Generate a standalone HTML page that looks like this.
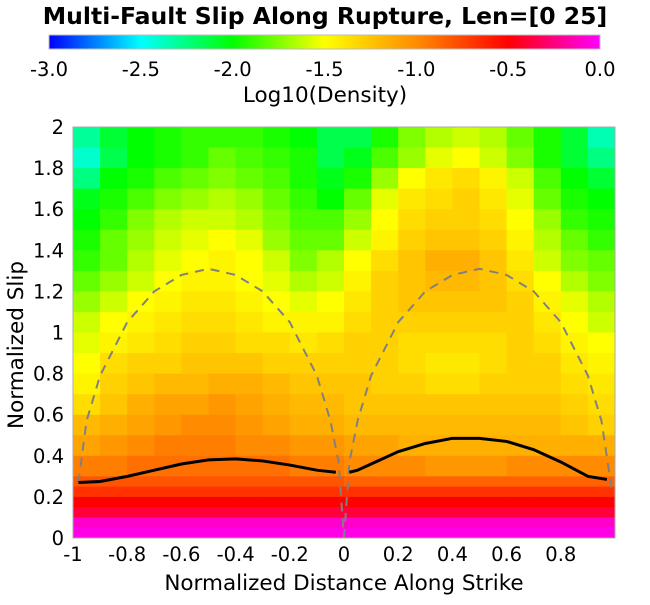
<!DOCTYPE html>
<html><head><meta charset="utf-8">
<style>
body{margin:0;background:#fff;}
svg text{font-family:"DejaVu Sans","Liberation Sans",sans-serif;fill:#000;}
</style></head>
<body>
<svg id="chart" width="650" height="600" viewBox="0 0 650 600" xmlns="http://www.w3.org/2000/svg">
<defs>
<linearGradient id="cmap" x1="0" x2="1" y1="0" y2="0">
<stop offset="0" stop-color="#0000ff"/><stop offset="0.1667" stop-color="#00ffff"/>
<stop offset="0.3333" stop-color="#00ff00"/><stop offset="0.5" stop-color="#ffff00"/>
<stop offset="0.6667" stop-color="#ff8c00"/><stop offset="0.8333" stop-color="#ff0000"/>
<stop offset="1" stop-color="#ff00ff"/></linearGradient>
</defs>
<text x="325" y="24" text-anchor="middle" font-size="23.5" font-weight="bold">Multi-Fault Slip Along Rupture, Len=[0 25]</text>
<rect x="49" y="35" width="551" height="14" fill="url(#cmap)" stroke="#bbb" stroke-width="1"/>
<g id="cbticks"></g>
<text x="325" y="102" text-anchor="middle" font-size="21.5">Log10(Density)</text>
<g id="heat"></g>
<g id="lines"></g>
<rect x="73" y="127" width="542" height="411" fill="none" stroke="#aaa" stroke-width="1"/>
<g id="axes"></g>
<text x="344" y="590" text-anchor="middle" font-size="21.5">Normalized Distance Along Strike</text>
<text transform="translate(23,345) rotate(-90)" text-anchor="middle" font-size="21.5">Normalized Slip</text>
</svg>
<script>
const xEdges = [-1,-0.9,-0.8,-0.7,-0.6,-0.5,-0.4,-0.3,-0.2,-0.1,0,0.1,0.2,0.3,0.4,0.5,0.6,0.7,0.8,0.9,1];
const yEdges = [2.0,1.9,1.8,1.7,1.6,1.5,1.4,1.3,1.2,1.1,1.0,0.9,0.8,0.7,0.6,0.5,0.4,0.3,0.25,0.2,0.15,0.1,0.05,0];
const density = [
[-2.3,-2.1,-2.0,-1.95,-1.9,-1.9,-1.9,-1.95,-2.0,-2.15,-2.15,-1.95,-1.75,-1.65,-1.6,-1.65,-1.8,-1.95,-2.1,-2.35],
[-2.4,-2.15,-2.0,-1.95,-1.9,-1.8,-1.85,-1.9,-1.95,-2.15,-2.05,-1.85,-1.7,-1.55,-1.5,-1.6,-1.75,-1.95,-2.1,-2.25],
[-2.25,-2.0,-1.95,-1.85,-1.8,-1.75,-1.8,-1.85,-1.95,-2.05,-1.95,-1.7,-1.5,-1.4,-1.35,-1.45,-1.6,-1.85,-2.0,-2.1],
[-2.05,-1.95,-1.85,-1.75,-1.7,-1.65,-1.7,-1.8,-1.9,-2.0,-1.8,-1.55,-1.4,-1.35,-1.3,-1.4,-1.55,-1.8,-1.95,-2.0],
[-2.0,-1.9,-1.75,-1.65,-1.6,-1.6,-1.65,-1.75,-1.85,-1.85,-1.7,-1.5,-1.35,-1.3,-1.3,-1.35,-1.5,-1.7,-1.9,-1.95],
[-1.95,-1.8,-1.7,-1.6,-1.55,-1.5,-1.55,-1.7,-1.8,-1.8,-1.6,-1.45,-1.3,-1.25,-1.25,-1.3,-1.45,-1.65,-1.8,-1.9],
[-1.9,-1.8,-1.65,-1.55,-1.5,-1.45,-1.5,-1.6,-1.75,-1.65,-1.5,-1.35,-1.25,-1.15,-1.15,-1.25,-1.4,-1.6,-1.75,-1.8],
[-1.8,-1.7,-1.6,-1.5,-1.45,-1.45,-1.5,-1.55,-1.65,-1.6,-1.45,-1.3,-1.25,-1.2,-1.2,-1.25,-1.35,-1.5,-1.65,-1.75],
[-1.7,-1.6,-1.5,-1.45,-1.4,-1.4,-1.45,-1.5,-1.55,-1.5,-1.4,-1.3,-1.25,-1.25,-1.25,-1.25,-1.3,-1.45,-1.55,-1.65],
[-1.6,-1.5,-1.45,-1.4,-1.35,-1.35,-1.4,-1.45,-1.45,-1.45,-1.35,-1.3,-1.3,-1.3,-1.3,-1.3,-1.3,-1.4,-1.5,-1.6],
[-1.55,-1.45,-1.4,-1.35,-1.3,-1.3,-1.35,-1.35,-1.4,-1.35,-1.3,-1.3,-1.35,-1.35,-1.35,-1.35,-1.3,-1.35,-1.45,-1.5],
[-1.5,-1.35,-1.3,-1.3,-1.25,-1.25,-1.25,-1.3,-1.3,-1.3,-1.3,-1.3,-1.35,-1.4,-1.4,-1.35,-1.3,-1.3,-1.4,-1.45],
[-1.45,-1.3,-1.25,-1.2,-1.2,-1.15,-1.15,-1.2,-1.25,-1.25,-1.25,-1.3,-1.3,-1.35,-1.35,-1.3,-1.3,-1.3,-1.35,-1.4],
[-1.35,-1.25,-1.15,-1.1,-1.1,-1.05,-1.1,-1.15,-1.2,-1.2,-1.25,-1.25,-1.25,-1.25,-1.25,-1.25,-1.25,-1.25,-1.3,-1.35],
[-1.2,-1.15,-1.1,-1.05,-1.0,-1.0,-1.05,-1.1,-1.15,-1.15,-1.2,-1.2,-1.2,-1.2,-1.2,-1.2,-1.2,-1.2,-1.25,-1.3],
[-1.1,-1.05,-1.0,-0.95,-0.95,-0.95,-1.0,-1.0,-1.05,-1.05,-1.1,-1.1,-1.15,-1.15,-1.15,-1.15,-1.15,-1.15,-1.15,-1.15],
[-0.95,-0.95,-0.9,-0.9,-0.9,-0.9,-0.9,-0.9,-0.95,-0.95,-1.0,-1.0,-1.0,-1.05,-1.05,-1.05,-1.0,-1.0,-1.0,-1.0],
[-0.8,-0.8,-0.8,-0.8,-0.8,-0.8,-0.8,-0.8,-0.8,-0.8,-0.85,-0.85,-0.85,-0.85,-0.85,-0.85,-0.85,-0.85,-0.85,-0.85],
[-0.68,-0.68,-0.68,-0.68,-0.68,-0.68,-0.68,-0.68,-0.68,-0.68,-0.68,-0.68,-0.68,-0.68,-0.68,-0.68,-0.68,-0.68,-0.68,-0.68],
[-0.5,-0.5,-0.5,-0.5,-0.5,-0.5,-0.5,-0.5,-0.5,-0.5,-0.5,-0.5,-0.5,-0.5,-0.5,-0.5,-0.5,-0.5,-0.5,-0.5],
[-0.38,-0.38,-0.38,-0.38,-0.38,-0.38,-0.38,-0.38,-0.38,-0.38,-0.38,-0.38,-0.38,-0.38,-0.38,-0.38,-0.38,-0.38,-0.38,-0.38],
[-0.1,-0.1,-0.1,-0.1,-0.1,-0.1,-0.1,-0.1,-0.1,-0.1,-0.1,-0.1,-0.1,-0.1,-0.1,-0.1,-0.1,-0.1,-0.1,-0.1],
[-0.05,-0.05,-0.05,-0.05,-0.05,-0.05,-0.05,-0.05,-0.05,-0.05,-0.05,-0.05,-0.05,-0.05,-0.05,-0.05,-0.05,-0.05,-0.05,-0.05]
];
const meanLeftX = [-0.98,-0.9,-0.8,-0.7,-0.6,-0.5,-0.4,-0.3,-0.2,-0.1,-0.03];
const meanLeftY = [0.27,0.275,0.3,0.33,0.36,0.38,0.385,0.375,0.355,0.33,0.32];
const meanRightX = [0.02,0.05,0.1,0.2,0.3,0.4,0.5,0.6,0.7,0.8,0.9,0.97];
const meanRightY = [0.32,0.33,0.36,0.42,0.46,0.485,0.485,0.47,0.43,0.37,0.3,0.285];
const envLeftX = [-0.98,-0.95,-0.9,-0.8,-0.7,-0.6,-0.5,-0.4,-0.3,-0.2,-0.1,-0.05,-0.02,0];
const envLeftY = [0.27,0.57,0.79,1.05,1.2,1.28,1.31,1.28,1.2,1.05,0.79,0.57,0.37,0];
const envRightX = [0,0.02,0.05,0.1,0.2,0.3,0.4,0.5,0.6,0.7,0.8,0.9,0.95,0.99];
const envRightY = [0,0.37,0.57,0.79,1.05,1.2,1.28,1.31,1.28,1.2,1.05,0.79,0.57,0.22];
const xTicks = [-1,-0.8,-0.6,-0.4,-0.2,0,0.2,0.4,0.6,0.8];
const xTickLabels = ["-1","-0.8","-0.6","-0.4","-0.2","0","0.2","0.4","0.6","0.8"];
const yTicks = [0,0.2,0.4,0.6,0.8,1,1.2,1.4,1.6,1.8,2];
const yTickLabels = ["0","0.2","0.4","0.6","0.8","1","1.2","1.4","1.6","1.8","2"];
const cbTicks = [-3,-2.5,-2,-1.5,-1,-0.5,0];
const cbTickLabels = ["-3.0","-2.5","-2.0","-1.5","-1.0","-0.5","0.0"];

const NS="http://www.w3.org/2000/svg";
const X0=73,X1=615,Y0=538,Y1=127;
function sx(v){return X0+(v+1)/2*(X1-X0);}
function sy(v){return Y0-v/2*(Y0-Y1);}
function cbx(v){return 49+(v+3)/3*551;}
const stops=[[-3,[0,0,255]],[-2.5,[0,255,255]],[-2,[0,255,0]],[-1.5,[255,255,0]],[-1,[255,140,0]],[-0.5,[255,0,0]],[0,[255,0,255]]];
function cmap(v){
  v=Math.max(-3,Math.min(0,v));
  for(let i=0;i<stops.length-1;i++){
    const a=stops[i],b=stops[i+1];
    if(v<=b[0]){const t=(v-a[0])/(b[0]-a[0]);
      return 'rgb('+a[1].map((c,k)=>Math.round(c+(b[1][k]-c)*t)).join(',')+')';}
  }
  return 'rgb(255,0,255)';
}
function mk(tag,attrs,parent){const e=document.createElementNS(NS,tag);for(const k in attrs)e.setAttribute(k,attrs[k]);parent.appendChild(e);return e;}

const heat=document.getElementById('heat');
for(let r=0;r<density.length;r++){
  for(let c=0;c<density[r].length;c++){
    const ya=sy(yEdges[r]),yb=sy(yEdges[r+1]);
    const xa=sx(xEdges[c]),xb=sx(xEdges[c+1]);
    const el=mk('rect',{x:xa.toFixed(2),y:ya.toFixed(2),width:(xb-xa+0.5).toFixed(2),height:(yb-ya+0.5).toFixed(2),fill:cmap(density[r][c])},heat);
    
    
  }
}
const lines=document.getElementById('lines');
function poly(xs,ys,attrs,name){
  const d=xs.map((x,i)=>(i?'L':'M')+sx(x).toFixed(2)+','+sy(ys[i]).toFixed(2)).join(' ');
  const el=mk('path',Object.assign({d:d,fill:'none'},attrs),lines);
  
  
}
poly(envLeftX,envLeftY,{stroke:'#808080','stroke-width':2,'stroke-dasharray':'9,7'},'envelope-left');
poly(envRightX,envRightY,{stroke:'#808080','stroke-width':2,'stroke-dasharray':'9,7'},'envelope-right');
poly(meanLeftX,meanLeftY,{stroke:'#000','stroke-width':3},'mean-slip-left');
poly(meanRightX,meanRightY,{stroke:'#000','stroke-width':3},'mean-slip-right');

const axes=document.getElementById('axes');
xTicks.forEach((v,i)=>{
  const t=mk('text',{x:sx(v),y:561,'text-anchor':'middle','font-size':19.5},axes);
  t.textContent=xTickLabels[i];
  
  
});
yTicks.forEach((v,i)=>{
  const t=mk('text',{x:64,y:sy(v)+7,'text-anchor':'end','font-size':19.5},axes);
  t.textContent=yTickLabels[i];
  
  
});
const cbt=document.getElementById('cbticks');
cbTicks.forEach((v,i)=>{
  const t=mk('text',{x:cbx(v),y:76,'text-anchor':'middle','font-size':19.5},cbt);
  t.textContent=cbTickLabels[i];
  
  
});
</script>
</body></html>
